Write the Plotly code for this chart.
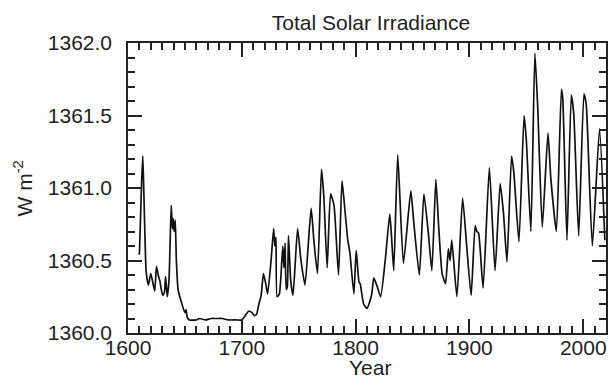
import plotly.graph_objects as go

years = [1610, 1612, 1613, 1614, 1616, 1618, 1620, 1622, 1623.5, 1625, 1626.5, 1628, 1629, 1630.5,
         1632, 1633, 1634.5, 1636, 1637, 1638, 1639, 1639.6, 1640.5, 1641.5, 1642.5, 1644, 1647,
         1650, 1651, 1652, 1654, 1660, 1663, 1668, 1673, 1678, 1683, 1688, 1695, 1700, 1703, 1706,
         1709, 1711, 1713, 1715, 1717, 1719, 1721, 1722.7, 1725.7, 1728, 1729, 1730, 1731, 1733,
         1736, 1737, 1738, 1739, 1740, 1741, 1743, 1745, 1749, 1752, 1755.5, 1759, 1761, 1763.5,
         1766.5, 1770, 1772, 1775, 1778, 1781, 1785, 1788, 1790, 1793, 1795, 1798.5, 1800.5, 1803,
         1804, 1807, 1810, 1814, 1816, 1819, 1822, 1826, 1830, 1831.5, 1833.5, 1837, 1842, 1848.5,
         1851, 1856, 1860, 1864, 1867, 1870.5, 1873, 1876, 1879, 1881.5, 1883, 1884.5, 1889, 1894,
         1897.7, 1901.5, 1905, 1906.5, 1908, 1912, 1917.5, 1922.5, 1927, 1930, 1933, 1937, 1939,
         1943.5, 1948, 1950, 1954, 1957.5, 1960, 1964, 1969, 1971.5, 1976.4, 1980.8, 1982, 1985.7,
         1989.5, 1991.6, 1996, 2000.6, 2002.6, 2008, 2014.3, 2019]

tsi = [1360.54, 1361.05, 1361.22, 1360.95, 1360.42, 1360.33, 1360.41, 1360.34, 1360.29, 1360.46,
       1360.40, 1360.36, 1360.31, 1360.26, 1360.28, 1360.39, 1360.25, 1360.36, 1360.62, 1360.88,
       1360.72, 1360.79, 1360.70, 1360.78, 1360.50, 1360.30, 1360.21, 1360.14, 1360.16, 1360.11,
       1360.09, 1360.09, 1360.10, 1360.09, 1360.10, 1360.10, 1360.10, 1360.09, 1360.09, 1360.09,
       1360.12, 1360.15, 1360.14, 1360.12, 1360.13, 1360.20, 1360.26, 1360.41, 1360.34, 1360.27,
       1360.50, 1360.72, 1360.60, 1360.66, 1360.25, 1360.27, 1360.60, 1360.45, 1360.62, 1360.30,
       1360.32, 1360.67, 1360.36, 1360.26, 1360.72, 1360.50, 1360.33, 1360.68, 1360.86, 1360.62,
       1360.41, 1361.13, 1360.95, 1360.45, 1360.96, 1360.88, 1360.40, 1361.05, 1360.90, 1360.65,
       1360.55, 1360.27, 1360.57, 1360.35, 1360.34, 1360.20, 1360.17, 1360.26, 1360.38, 1360.32,
       1360.25, 1360.50, 1360.82, 1360.67, 1360.43, 1361.23, 1360.48, 1360.98, 1360.77, 1360.40,
       1360.96, 1360.68, 1360.43, 1361.06, 1360.73, 1360.41, 1360.34, 1360.58, 1360.50, 1360.64,
       1360.25, 1360.93, 1360.59, 1360.26, 1360.74, 1360.70, 1360.69, 1360.31, 1361.14, 1360.43,
       1361.03, 1360.82, 1360.49, 1361.22, 1361.11, 1360.63, 1361.50, 1361.33, 1360.70, 1361.93,
       1361.56, 1360.73, 1361.38, 1361.07, 1360.70, 1361.68, 1361.62, 1360.64, 1361.64, 1361.52,
       1360.67, 1361.65, 1361.58, 1360.60, 1361.41, 1360.64]

title_text = "Total Solar Irradiance"
x_title = "Year"
y_title = "W m<sup>-2</sup>"

FONT = "Liberation Sans, Arial, sans-serif"
FS = 21
INK = "#222222"

fig = go.Figure()
fig.add_trace(go.Scatter(x=years, y=tsi, mode="lines",
                         line=dict(color="#111111", width=1.7, shape="spline", smoothing=0.5),
                         showlegend=False, hoverinfo="skip"))

axis_common = dict(
    showline=True, linecolor=INK, linewidth=1.5, mirror="allticks",
    ticks="inside", ticklen=14, tickwidth=1.5, tickcolor=INK,
    showgrid=False, zeroline=False,
    tickfont=dict(family=FONT, size=FS, color=INK),
)

fig.update_xaxes(range=[1600, 2020], dtick=100, tick0=1600, ticklabelstandoff=-5,
                 minor=dict(dtick=10, ticks="inside", ticklen=7, tickwidth=1.5, tickcolor=INK),
                 **axis_common)
fig.update_yaxes(range=[1360, 1362], dtick=0.5, tick0=1360, tickformat=".1f", ticklabelstandoff=10,
                 minor=dict(dtick=0.1, ticks="inside", ticklen=7, tickwidth=1.5, tickcolor=INK),
                 **axis_common)

L, R, T, B = 128, 5, 43, 48
W, H = 613, 381
plot_w = W - L - R
plot_h = H - T - B

fig.update_layout(
    width=W, height=H,
    margin=dict(l=L, r=R, t=T, b=B),
    paper_bgcolor="white", plot_bgcolor="white",
    font=dict(family=FONT, size=FS, color=INK),
    title=dict(text=title_text, x=371 / W, xref="container", xanchor="center",
               y=1 - 23 / H, yref="container", yanchor="middle",
               font=dict(family=FONT, size=FS, color=INK)),
    annotations=[
        dict(text=x_title, xref="paper", yref="paper",
             x=(371 - L) / plot_w, y=-(H - (H - B)) / plot_h,
             xanchor="center", yanchor="bottom", showarrow=False,
             font=dict(family=FONT, size=FS, color=INK)),
        dict(text=y_title, xref="paper", yref="paper",
             x=-(L - 23) / plot_w, y=0.5, xanchor="center", yanchor="middle",
             textangle=-90, showarrow=False,
             font=dict(family=FONT, size=FS, color=INK)),
    ],
)

fig.write_html("out.html", config={"displayModeBar": False},
               post_script="document.body.style.margin='0';document.body.style.padding='0';")
